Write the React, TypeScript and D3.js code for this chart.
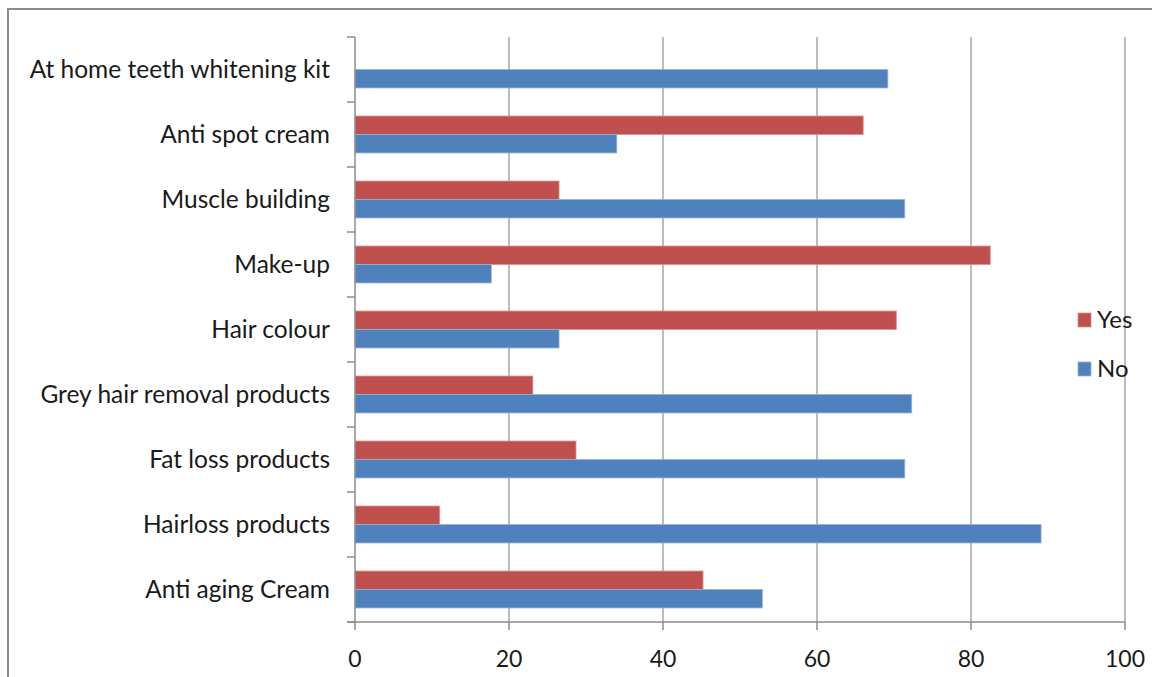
import React, { useEffect, useRef } from 'react';
import * as d3 from 'd3';

// categories listed bottom to top, as in the source chart
const categories = [
  'Anti aging Cream',
  'Hairloss products',
  'Fat loss products',
  'Grey hair removal products',
  'Hair colour',
  'Make-up',
  'Muscle building',
  'Anti spot cream',
  'At home teeth whitening kit',
];
const yesValues = [45.2, 11.0, 28.7, 23.1, 70.3, 82.5, 26.5, 66.0, 0];
const noValues = [52.9, 89.1, 71.4, 72.3, 26.5, 17.7, 71.4, 34.0, 69.2];
const seriesNames = ['Yes', 'No'];
const xTicks = [0, 20, 40, 60, 80, 100];

const colors: Record<string, string> = { Yes: '#C0504D', No: '#4F81BD' };
const strokes: Record<string, string> = { Yes: '#D9908E', No: '#95B3D7' };

const App = () => {
  const svgRef = useRef<SVGSVGElement | null>(null);
  const width = 1152;
  const height = 677;

  useEffect(() => {
    document.body.style.margin = '0';
    const svg = d3.select(svgRef.current);
    svg.selectAll('*').remove();

    const font = 'Lato, "Open Sans", sans-serif';
    const plot = { left: 355, right: 1125, top: 37, bottom: 622 };

    // outer frame
    svg.append('path')
      .attr('d', `M8,${height} L8,9 L${width},9`)
      .attr('fill', 'none')
      .attr('stroke', '#8c8c8c')
      .attr('stroke-width', 2);

    const x = d3.scaleLinear().domain([0, 100]).range([plot.left, plot.right]);
    const y = d3.scaleBand()
      .domain(categories.slice().reverse())
      .range([plot.top, plot.bottom])
      .padding(0);
    const ySeries = d3.scaleBand()
      .domain(seriesNames)
      .range([0, y.bandwidth()])
      .paddingInner(0)
      .paddingOuter(0.76);

    // gridlines
    svg.append('g')
      .selectAll('line')
      .data(xTicks.filter(d => d > 0))
      .join('line')
      .attr('x1', d => x(d))
      .attr('x2', d => x(d))
      .attr('y1', plot.top)
      .attr('y2', plot.bottom)
      .attr('stroke', '#a6a6a6')
      .attr('stroke-width', 1.5);

    const rows = categories.map((c, i) => ({ c, Yes: yesValues[i], No: noValues[i] }));

    const group = svg.append('g')
      .selectAll('g')
      .data(rows)
      .join('g')
      .attr('transform', d => `translate(0,${y(d.c)})`);

    group.selectAll('rect')
      .data(d => seriesNames.map(s => ({ s, v: d[s as 'Yes' | 'No'] })).filter(e => e.v > 0))
      .join('rect')
      .attr('x', x(0))
      .attr('y', d => ySeries(d.s)!)
      .attr('width', d => x(d.v) - x(0))
      .attr('height', ySeries.bandwidth())
      .attr('fill', d => colors[d.s])
      .attr('stroke', d => strokes[d.s])
      .attr('stroke-width', 0.8);

    // y axis
    const yAxis = svg.append('g').attr('transform', `translate(${plot.left},0)`);
    yAxis.append('line')
      .attr('x1', 0).attr('x2', 0)
      .attr('y1', plot.top).attr('y2', plot.bottom)
      .attr('stroke', '#8c8c8c').attr('stroke-width', 1.5);
    const catTicks = d3.range(categories.length + 1).map(i => plot.top + i * y.step());
    yAxis.selectAll('line.tick')
      .data(catTicks)
      .join('line')
      .attr('class', 'tick')
      .attr('x1', -8).attr('x2', 0)
      .attr('y1', d => d).attr('y2', d => d)
      .attr('stroke', '#8c8c8c').attr('stroke-width', 1.5);
    yAxis.selectAll('text')
      .data(categories)
      .join('text')
      .attr('x', -25)
      .attr('y', d => y(d)! + y.bandwidth() / 2)
      .attr('dy', '0.35em')
      .attr('text-anchor', 'end')
      .attr('font-family', font)
      .attr('font-size', 24.5)
      .attr('fill', '#1a1a1a')
      .text(d => d);

    // x axis
    const xAxis = svg.append('g').attr('transform', `translate(0,${plot.bottom})`);
    xAxis.append('line')
      .attr('x1', plot.left - 8).attr('x2', plot.right)
      .attr('y1', 0).attr('y2', 0)
      .attr('stroke', '#8c8c8c').attr('stroke-width', 1.5);
    xAxis.selectAll('line.tick')
      .data(xTicks)
      .join('line')
      .attr('class', 'tick')
      .attr('x1', d => x(d)).attr('x2', d => x(d))
      .attr('y1', 0).attr('y2', 8)
      .attr('stroke', '#8c8c8c').attr('stroke-width', 1.5);
    xAxis.selectAll('text')
      .data(xTicks)
      .join('text')
      .attr('x', d => x(d))
      .attr('y', 45)
      .attr('text-anchor', 'middle')
      .attr('font-family', font)
      .attr('font-size', 23)
      .attr('fill', '#1a1a1a')
      .text(d => d);

    // legend
    const legend = svg.append('g').attr('transform', 'translate(1078,313)');
    const item = legend.selectAll('g')
      .data(seriesNames)
      .join('g')
      .attr('transform', (d, i) => `translate(0,${i * 49})`);
    item.append('rect')
      .attr('width', 13)
      .attr('height', 14)
      .attr('fill', d => colors[d])
      .attr('stroke', d => strokes[d])
      .attr('stroke-width', 0.8);
    item.append('text')
      .attr('x', 19)
      .attr('y', 7)
      .attr('dy', '0.35em')
      .attr('font-family', font)
      .attr('font-size', 24)
      .attr('fill', '#1a1a1a')
      .text(d => d);
  }, []);

  return <svg ref={svgRef} width={width} height={height} style={{ display: 'block' }}></svg>;
};

export default App;
